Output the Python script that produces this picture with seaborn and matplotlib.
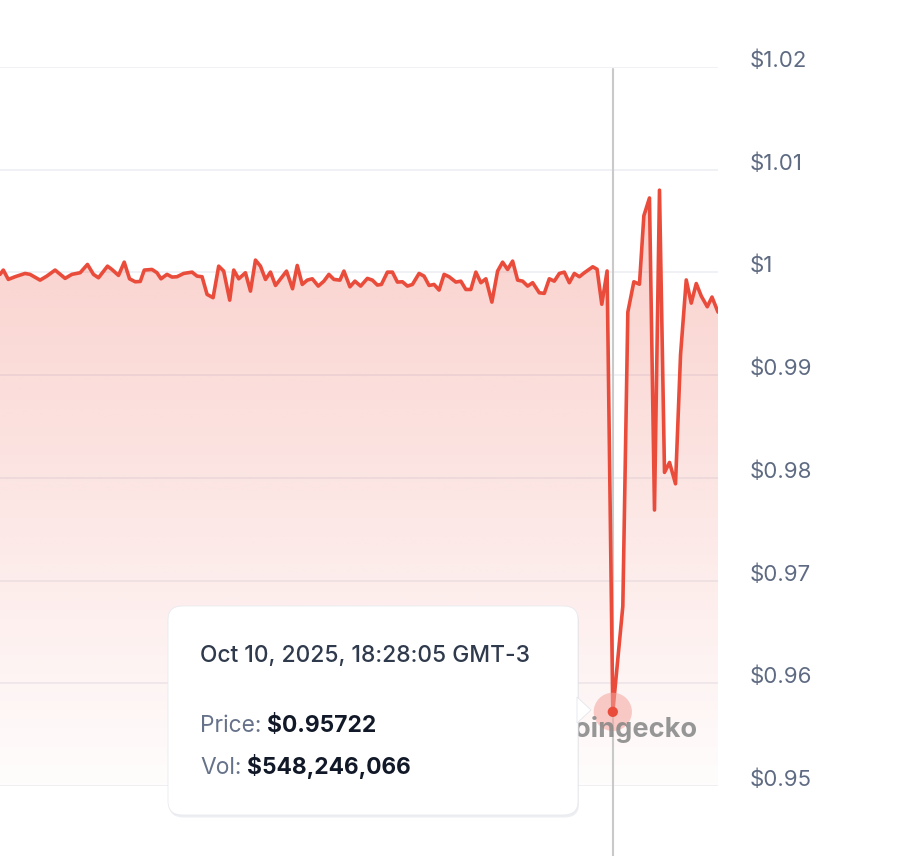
import numpy as np
import seaborn as sns
import matplotlib.pyplot as plt
from matplotlib.patches import FancyBboxPatch, Polygon

# price samples (t = sample position, price in USD)
t = [0, 3.3, 8.3, 15, 25, 30, 40, 46.7, 55, 65, 71.7, 80, 87.3, 93.3, 98.3,
     107.3, 111.7, 118.3, 124, 129.3, 135, 140, 144, 151.7, 156.7, 160.7,
     166.7, 171.7, 176.7, 183.3, 191.7, 196.7, 201.7, 206.7, 212.7, 218.3,
     223.3, 229.3, 233.3, 238.3, 245, 250, 255, 260, 265, 270, 275, 281.7,
     286, 292, 296.7, 301.7, 306.7, 311.7, 317.7, 323.3, 328.3, 333.3, 339.3,
     343.3, 349.3, 354.3, 360, 366.7, 371.7, 376.7, 380.7, 386.7, 391.7,
     396.7, 401.7, 406.7, 411.7, 418.3, 423.3, 428.3, 433.3, 438.3, 443.3,
     448.3, 455, 460, 465, 470, 475, 480, 485, 491, 496.7, 501.7, 506.7,
     511.7, 516.7, 521.7, 526.7, 531.7, 538.3, 543.3, 548.3, 553.3, 558.3,
     563.3, 568.3, 573.3, 578.3, 583.3, 591.7, 596, 600.7, 606, 611.7, 621.7,
     626.7, 632.7, 638.3, 642.7, 648.3, 653.3, 658.3, 663.3, 668.3, 674.3,
     679.3, 685, 690, 695, 700, 706, 710.7, 716.7]
price = [0.99981, 1.00023, 0.99932, 0.99958, 0.9999, 0.99981, 0.99925, 0.99964,
         1.00023, 0.99942, 0.99981, 0.99997, 1.00078, 0.99981, 0.99948, 1.00061,
         1.00029, 0.99971, 1.001, 0.99938, 0.99909, 0.99912, 1.00023, 1.00029,
         0.99997, 0.99938, 0.99981, 0.99955, 0.99958, 0.9999, 1.00003, 0.99964,
         0.99958, 0.99786, 0.99754, 1.00061, 1.00013, 0.9973, 1.00023, 0.99938,
         0.99997, 0.99818, 1.0012, 1.00061, 0.99932, 1.00003, 0.99873, 0.99958,
         1.00013, 0.99841, 1.00068, 0.99883, 0.99925, 0.99938, 0.99867, 0.99915,
         0.99981, 0.99932, 0.99925, 1.00013, 0.9986, 0.99915, 0.99867, 0.99942,
         0.99925, 0.99877, 0.99883, 1.00003, 1.00003, 0.99906, 0.99909, 0.99867,
         0.99883, 0.9999, 0.99964, 0.99873, 0.99883, 0.99828, 0.99981, 0.99958,
         0.99906, 0.99915, 0.99834, 0.99834, 1.00003, 0.999, 0.99938, 0.99711,
         1.00013, 1.001, 1.00029, 1.0011, 0.99925, 0.99915, 0.99867, 0.999,
         0.99802, 0.99796, 0.99938, 0.99915, 0.9999, 1.00003, 0.999, 0.9999,
         0.99958, 0.99997, 1.00055, 1.00031, 0.9969, 1.00014, 0.95722, 0.9675,
         0.99614, 0.99909, 0.99885, 1.00552, 1.00725, 0.97687, 1.00801, 0.98053,
         0.9815, 0.97942, 0.99198, 0.99927, 0.99701, 0.99892, 0.9977, 0.99666,
         0.9976, 0.99614]

yticks = [0.95, 0.96, 0.97, 0.98, 0.99, 1.00, 1.01, 1.02]
ytick_labels = ["$0.95", "$0.96", "$0.97", "$0.98", "$0.99", "$1", "$1.01", "$1.02"]

tooltip_date = "Oct 10, 2025, 18:28:05 GMT-3"
tooltip_price = "$0.95722"
tooltip_vol = "$548,246,066"

RED = "#ea4c3c"

sns.set_style("white")
plt.rcParams['font.family'] = ['Inter', 'DejaVu Sans']

W, H = 898, 856
fig = plt.figure(figsize=(W / 100, H / 100), dpi=100)
ax = fig.add_axes([0, (H - 786) / H, 718 / W, (786 - 67) / H])


def px(x, y):
    # pixel position (from top-left) -> figure fraction
    return x / W, 1 - y / H


sns.lineplot(x=t, y=price, ax=ax, color=RED, linewidth=2.6, zorder=4)
ax.set_xlim(t[0], t[-1])
ax.set_ylim(yticks[0], yticks[-1])

# gradient fill under the line
poly = ax.fill_between(t, price, yticks[0], color="none")
top = max(price)
grad = np.zeros((256, 1, 4))
grad[:, 0, 0] = 234 / 255
grad[:, 0, 1] = 76 / 255
grad[:, 0, 2] = 60 / 255
grad[:, 0, 3] = np.linspace(0.015, 0.27, 256)
img = ax.imshow(grad, extent=[t[0], t[-1], yticks[0], top], aspect="auto",
                origin="lower", zorder=1, interpolation="bilinear")
img.set_clip_path(poly.get_paths()[0], transform=ax.transData)

# grid, ticks
ax.set_yticks(yticks)
ax.set_yticklabels(ytick_labels)
ax.yaxis.tick_right()
ax.tick_params(axis="y", length=0, pad=23, labelsize=16, labelcolor="#5f6b82")
for lab in ax.get_yticklabels():
    lab.set_va("baseline")
ax.set_xticks([])
ax.grid(axis="y", color="#eceef2", linewidth=1.1)
ax.set_axisbelow(True)
sns.despine(ax=ax, left=True, right=True, top=True, bottom=True)

# crosshair + hovered point
i_min = int(np.argmin(price))
ax.axvline(t[i_min], ymin=-0.1, ymax=0.997, color="#c9c9c9", linewidth=1.5,
           zorder=3, clip_on=False)
ax.scatter([t[i_min]], [price[i_min]], s=760, color="#f4a49c", alpha=0.55,
           edgecolor="none", zorder=5)
ax.scatter([t[i_min]], [price[i_min]], s=55, color=RED, edgecolor="none", zorder=6)

# watermark
ax.text(698 / 718, (786 - 737) / (786 - 67), "coingecko", transform=ax.transAxes,
        ha="right", va="baseline", fontsize=19.5, fontweight="bold",
        color="#858585", alpha=0.85, zorder=5)

# tooltip
shadow = FancyBboxPatch(px(169, 817.5), 410 / W, 209 / H,
                        boxstyle="round,pad=0,rounding_size=0.016",
                        transform=fig.transFigure, facecolor="#c3c8d2",
                        edgecolor="none", alpha=0.3, zorder=9, clip_on=False)
box = FancyBboxPatch(px(168, 815), 410 / W, 209 / H,
                     boxstyle="round,pad=0,rounding_size=0.016",
                     transform=fig.transFigure, facecolor="white",
                     edgecolor="#e8eaef", linewidth=0.6, zorder=10, clip_on=False)
pointer = Polygon([px(577, 697), px(591, 710), px(577, 723)], closed=True,
                  transform=fig.transFigure, facecolor="white",
                  edgecolor="#e3e6ec", linewidth=0.6, zorder=10, clip_on=False)
for p in (shadow, box, pointer):
    ax.add_patch(p)

fig.text(*px(200, 662), tooltip_date, fontsize=16.4, fontweight="medium",
         color="#2f3a4c", va="baseline", zorder=11)

fig.canvas.draw()
renderer = fig.canvas.get_renderer()
for label, value, ypos in (("Price:", tooltip_price, 732), ("Vol:", tooltip_vol, 774)):
    lt = fig.text(*px(200, ypos), label, fontsize=16.4, color="#66728a",
                  va="baseline", zorder=11)
    bb = lt.get_window_extent(renderer)
    fig.text(bb.x1 / W + 6 / W, 1 - ypos / H, value, fontsize=16.4,
             fontweight="bold", color="#111827", va="baseline", zorder=11)

fig.savefig("out.png", dpi=100, facecolor="white")
